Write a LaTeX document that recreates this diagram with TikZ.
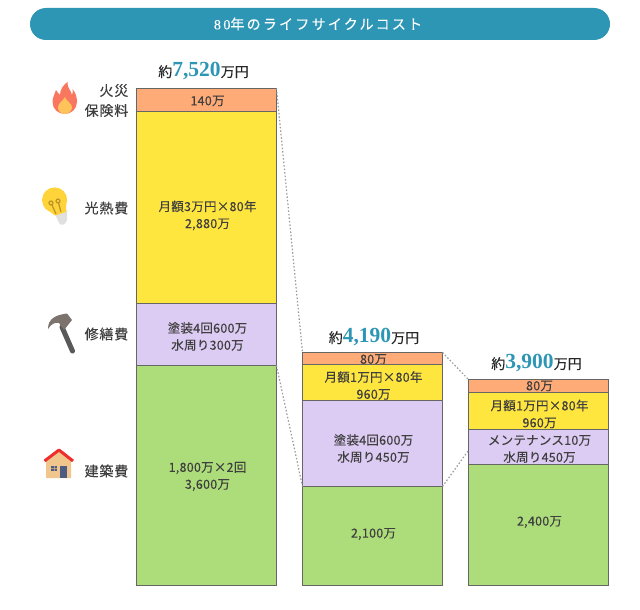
\documentclass[tikz,border=0pt]{standalone}
\usepackage{fontspec}
\usepackage{xcolor}
\usetikzlibrary{positioning}
\setmainfont{Liberation Serif}
\newfontfamily\cjk[LetterSpace=2,FakeBold=0.15]{Noto Sans CJK JP}
\newfontfamily\cjkhead[FakeBold=0.25]{Noto Sans CJK JP}
\newfontfamily\cjkwide[LetterSpace=6,FakeBold=0.25]{Noto Sans CJK JP}
\newfontfamily\titlefont[LetterSpace=16,FakeBold=0.2]{Noto Sans CJK JP}
\newfontfamily\titlenum[LetterSpace=18,FakeBold=0.2]{Liberation Serif}
\definecolor{tealc}{HTML}{2E96B5}
\definecolor{firec}{HTML}{FFAB78}
\definecolor{lightc}{HTML}{FFE63F}
\definecolor{repairc}{HTML}{DCCBF2}
\definecolor{buildc}{HTML}{ADDC7A}
\definecolor{textc}{HTML}{3F3F3F}
\definecolor{linec}{HTML}{666666}
\definecolor{dotc}{HTML}{9A9A9A}
\definecolor{flamec}{HTML}{F9765F}
\definecolor{flameinc}{HTML}{FFC35C}
\definecolor{bulbc}{HTML}{FFD43A}
\definecolor{filamentc}{HTML}{BE9628}
\definecolor{hammerc}{HTML}{7D736E}
\definecolor{wallc}{HTML}{F0C68C}
\definecolor{doorc}{HTML}{4E5C82}
\definecolor{roofc}{HTML}{EE2D2D}
\newcommand{\bartotal}[1]{{\fontsize{14}{15}\selectfont\cjkhead 約}{\fontsize{21.5}{20}\selectfont\bfseries\color{tealc}#1}{\fontsize{14}{15}\selectfont\cjkhead 万円}}

\begin{document}
\begin{tikzpicture}[x=1pt,y=-1pt,node distance=0pt,
		bar node/.style={rectangle,draw=linec,line width=1pt,minimum width=140pt,inner sep=0pt,outer sep=0pt},
		bar text/.style={align=center,inner sep=0pt,xshift=1pt,text=textc,font=\cjk\fontsize{12.5}{17}\selectfont},
		side node/.style={anchor=east,align=right,inner sep=0pt,text=textc,font=\cjkwide\fontsize{14}{20}\selectfont},
		total node/.style={inner sep=0pt,text=black!85},
		link/.style={draw=dotc,line width=1.2pt,dash pattern=on 1.5pt off 2pt}]
	\useasboundingbox (0,0) rectangle (640,610);

	% title
	\node[rectangle,rounded corners=16pt,fill=tealc,minimum width=580pt,minimum height=32pt,inner sep=0pt] (title) at (320,24) {};
	\node[text=white,inner sep=0pt,font=\fontsize{14}{15}\selectfont] (titletext) at (318,24) {\titlenum 80\titlefont 年のライフサイクルコスト};

	% bar 1
	\node[bar node,anchor=north west,fill=firec,minimum height=23pt,label={[bar text,yshift=-1pt]center:{140万}}] (fire1) at (136.5,88.5) {};
	\node[bar node,fill=lightc,minimum height=192pt,below=of fire1,label={[bar text,yshift=-8pt]center:{月額3万円×80年\\2,880万}}] (light1) {};
	\node[bar node,fill=repairc,minimum height=62pt,below=of light1,label={[bar text,yshift=-2pt]center:{塗装4回600万\\水周り300万}}] (repair1) {};
	\node[bar node,fill=buildc,minimum height=220pt,below=of repair1,label={[bar text,yshift=-1pt]center:{1,800万×2回\\3,600万}}] (build1) {};

	% bar 2
	\node[bar node,anchor=north west,fill=firec,minimum height=12pt,label={[bar text,yshift=-1pt]center:{80万}}] (fire2) at (302.5,352.5) {};
	\node[bar node,fill=lightc,minimum height=36pt,below=of fire2,label={[bar text,yshift=-3pt]center:{月額1万円×80年\\960万}}] (light2) {};
	\node[bar node,fill=repairc,minimum height=86pt,below=of light2,label={[bar text,yshift=-5pt]center:{塗装4回600万\\水周り450万}}] (repair2) {};
	\node[bar node,fill=buildc,minimum height=99pt,below=of repair2,label={[bar text,yshift=2pt]center:{2,100万}}] (build2) {};

	% bar 3
	\node[bar node,anchor=north west,fill=firec,minimum height=13pt,label={[bar text]center:{80万}}] (fire3) at (468.5,379.5) {};
	\node[bar node,fill=lightc,minimum height=37pt,below=of fire3,label={[bar text,yshift=-3pt]center:{月額1万円×80年\\960万}}] (light3) {};
	\node[bar node,fill=repairc,minimum height=35pt,below=of light3,label={[bar text,yshift=-2pt]center:{メンテナンス10万\\水周り450万}}] (repair3) {};
	\node[bar node,fill=buildc,minimum height=121pt,below=of repair3,label={[bar text,yshift=3pt]center:{2,400万}}] (build3) {};

	% totals
	\node[total node,above=8pt of fire1,xshift=-3pt] (total1) {\bartotal{7,520}};
	\node[total node,above=6pt of fire2,xshift=1.5pt] (total2) {\bartotal{4,190}};
	\node[total node,above=7pt of fire3,xshift=-2pt] (total3) {\bartotal{3,900}};

	% side labels
	\node[side node] (firelabel) at (128.5,100.5) {火災\\保険料};
	\node[side node] (lightlabel) at (128.5,208) {光熱費};
	\node[side node] (repairlabel) at (128.5,334) {修繕費};
	\node[side node] (buildlabel) at (128.5,471) {建築費};

	% links
	\coordinate (mid3) at (468,451);
	\path[link] (fire1.north east) -- (fire2.north west);
	\path[link] (build1.north east) -- (build2.north west);
	\path[link] (fire2.north east) -- (fire3.north west);
	\path[link] (build2.north east) -- (mid3);

	% flame
	\fill[flamec] (67.5,82) .. controls (67,88) and (71,90) .. (72,95) .. controls (73,93) and (73,91) .. (72.5,89)
		.. controls (76,93) and (77,98) .. (77,102) .. controls (77,109) and (71,114) .. (65,114)
		.. controls (58,114) and (52.5,109) .. (52.5,102) .. controls (52.5,97) and (55,94) .. (56,90)
		.. controls (57,92) and (59,94) .. (60,95) .. controls (60,90) and (63,85) .. (67.5,82) -- cycle;
	\fill[flameinc] (65,97) .. controls (66,101) and (72,103) .. (72,107.5) .. controls (72,111) and (68,114) .. (65,114)
		.. controls (61,114) and (58,111) .. (58,107.5) .. controls (58,103) and (63,101) .. (65,97) -- cycle;

	% bulb
	\fill[black!12] (55,214) -- (67,210) -- (67,220) .. controls (66,225) and (61,226) .. (59,223) -- cycle;
	\fill[bulbc] (54.6,200) circle (12.6);
	\fill[bulbc] (45,208) -- (66,202) -- (66,212) -- (55,215.5) -- cycle;
	\draw[filamentc,line width=1.3pt] (56,214) -- (52,205) (51,203) circle (2) (61,212) -- (58.5,203) (58,201) circle (2);

	% hammer
	\draw[black!65,line width=5pt,line cap=round] (62,327) -- (72.5,351);
	\fill[hammerc] (48,329) .. controls (48,319) and (55,315) .. (67,313.5) -- (72,320) -- (64,330) -- (59,323) .. controls (55,322) and (51,324) .. (48,329) -- cycle;

	% house
	\fill[wallc] (46,461) -- (59,451) -- (71,461) -- (71,478) -- (46,478) -- cycle;
	\fill[doorc] (60,466) rectangle (67,478);
	\fill[doorc] (51,466) rectangle (57,471);
	\draw[wallc!60!doorc,line width=.5pt] (54,466) -- (54,471) (51,468.5) -- (57,468.5);
	\draw[roofc,line width=3pt,line join=round] (44.5,461) -- (59,450) -- (73,461);
\end{tikzpicture}
\end{document}
